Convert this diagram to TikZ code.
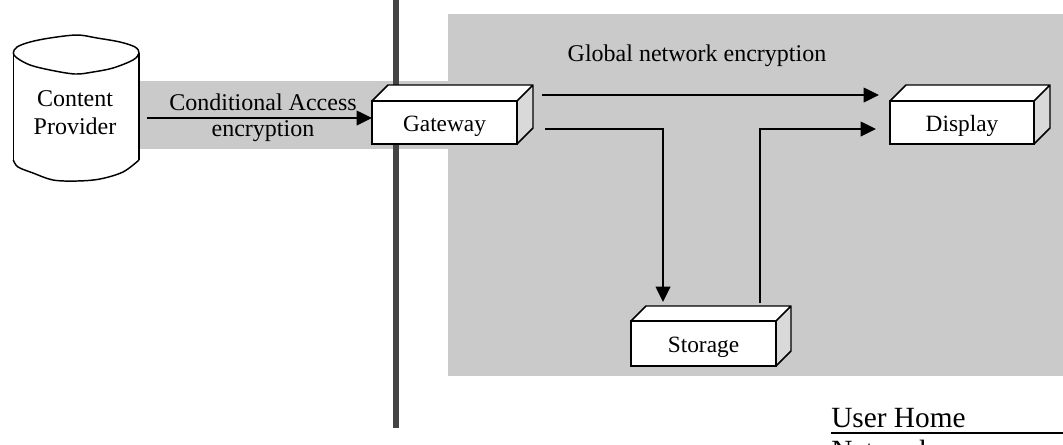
\documentclass[tikz,border=0pt]{standalone}
\usepackage{fontspec}
\setmainfont{Liberation Serif}
\usetikzlibrary{arrows.meta}
\definecolor{bandgray}{HTML}{CACACA}
\definecolor{bargray}{HTML}{444444}
\definecolor{sidegray}{HTML}{D9D9D9}
\tikzset{
  lbl/.style={inner sep=0pt,font=\fontsize{18}{21}\selectfont,align=center},
  big/.style={inner sep=0pt,anchor=base west,font=\fontsize{22}{26}\selectfont},
  conn/.style={line width=1.1pt,-{Triangle[length=11.5pt,width=11pt]}},
  edge/.style={line width=1.1pt,line join=round},
  frontbox/.style={draw=black,fill=white,line width=1.1pt,inner sep=0pt,font=\fontsize{17.5}{21}\selectfont},
}
% x0 ytop x1 ybottom dxy: the top and side faces of a box
\newcommand{\boxfaces}[5]{%
  \fill[white] (#1,#2) -- (#1+#5,#2-#5) -- (#3+#5,#2-#5) -- (#3,#2) -- cycle;
  \fill[sidegray] (#3,#2) -- (#3+#5,#2-#5) -- (#3+#5,#4-#5) -- (#3,#4) -- cycle;
  \draw[edge] (#1,#2) -- (#1+#5,#2-#5) -- (#3+#5,#2-#5) -- (#3,#2)
     (#3+#5,#2-#5) -- (#3+#5,#4-#5) -- (#3,#4);
}
\newcommand{\boxlabel}[1]{\raisebox{-6.4pt}[0pt][0pt]{#1}}
\begin{document}
\begin{tikzpicture}[x=0.75pt,y=-0.75pt]
\useasboundingbox (0,0) rectangle (1063,444);
\clip (0,0) rectangle (1063,444);
% grey regions
\fill[bandgray] (448,14) rectangle (1063,376);
\fill[bandgray] (139,81) rectangle (448,149);
% vertical divider
\fill[bargray] (393,0) rectangle (399,428);
% cylinder
\fill[white] (13.3,53) -- (13.3,160) -- (18,167) -- (33,173) -- (53,180) -- (77,181) -- (100,179) -- (123,172) -- (139,160) -- (139,53) -- cycle;
\draw[edge] (13.3,53) -- (13.3,160);
\draw[edge] (139,53) -- (139,160);
\draw[edge] plot[smooth,tension=0.55] coordinates {(13.3,160) (18,167) (33,173) (53,180) (77,181) (100,179) (123,172) (139,160)};
\draw[edge,fill=white] plot[smooth cycle,tension=0.55] coordinates {(13.3,53) (17,47) (30,42) (50,38) (77,35) (97,38) (120,42) (135,47) (139,53) (133,60) (113,68) (93,72) (75,74) (50,70) (30,65) (17,58)};
\node[lbl] (provider) at (75,113) {Content\\Provider};
% boxes
\boxfaces{372}{101}{517}{144}{16}
\node[frontbox,minimum width=108.75pt,minimum height=32.25pt] (gateway) at (444.5,122.5) {\boxlabel{Gateway}};
\boxfaces{890}{101}{1034}{144}{16}
\node[frontbox,minimum width=108pt,minimum height=32.25pt] (display) at (962,122.5) {\boxlabel{Display}};
\boxfaces{631}{321}{776}{366}{15}
\node[frontbox,minimum width=108.75pt,minimum height=33.75pt] (storage) at (703.5,343.5) {\boxlabel{Storage}};
% coordinates for connector free ends
\coordinate (cpout) at (147,118);
\coordinate (gwin) at (372,118);
\coordinate (gwout1) at (542,95);
\coordinate (dsin1) at (879,95);
\coordinate (gwout2) at (545,129);
\coordinate (bend1) at (663,129);
\coordinate (stin) at (663,302);
\coordinate (stout) at (760,303);
\coordinate (bend2) at (760,129);
\coordinate (dsin2) at (876,129);
% connectors
\draw[conn] (cpout) -- (gwin);
\draw[conn] (gwout1) -- (dsin1);
\draw[conn] (gwout2) -- (bend1) -- (stin);
\draw[conn] (stout) -- (bend2) -- (dsin2);
% labels
\node[lbl] (calabel1) at (263,102) {Conditional Access};
\node[lbl] (calabel2) at (263,131) {encryption};
\node[lbl] (globallabel) at (697,56) {Global network encryption};
% lower right
\node[big] (userhome) at (831,427) {User Home};
\draw[line width=1.1pt] (831,433) -- (1063,433);
\node[big] (network) at (831,460) {Network};
\end{tikzpicture}
\end{document}
